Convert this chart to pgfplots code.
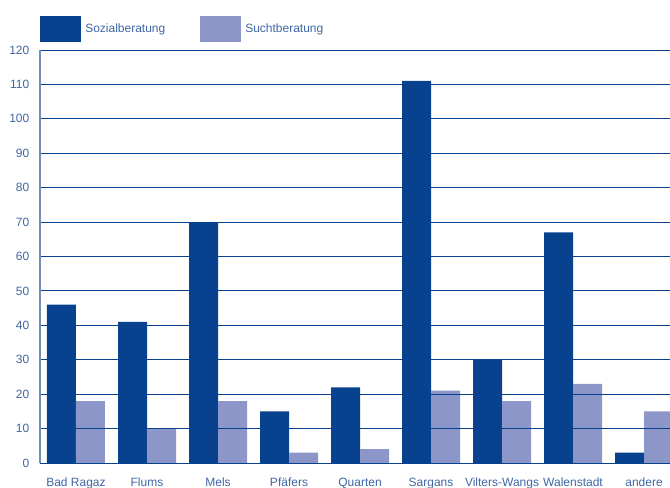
\documentclass[border=0pt]{standalone}
\usepackage{pgfplots}
\pgfplotsset{compat=1.18}
\usepackage{fontspec}
\setmainfont{Liberation Sans}
\definecolor{darkb}{HTML}{08418E}
\definecolor{lightb}{HTML}{8C96C8}
\definecolor{txtb}{HTML}{3F66A3}
\definecolor{axl}{HTML}{6F8EC0}
\begin{document}
\begin{tikzpicture}[x=0.75pt,y=0.75pt]
\useasboundingbox (-40,-24) rectangle (630,463);
\begin{axis}[
  at={(0,0)}, anchor=south west,
  scale only axis, width=472.5pt, height=309.75pt,
  ybar, bar width=21.75pt,
  xmin=-0.507, xmax=8.366, ymin=0, ymax=120,
  xtick={0,...,8},
  xticklabels={Bad Ragaz,Flums,Mels,Pfäfers,Quarten,Sargans,Vilters-Wangs,Walenstadt,andere},
  ytick={0,10,...,120},
  major tick length=0pt,
  axis on top,
  ymajorgrids, grid style={darkb, line width=0.75pt},
  axis x line*=bottom, axis y line*=left,
  x axis line style={darkb, line width=0.75pt, -},
  y axis line style={axl, line width=1.1pt, -},
  tick label style={font=\fontsize{9}{11}\selectfont, text=txtb},
  xticklabel style={anchor=base, yshift=-17.5pt},
  yticklabel style={anchor=east, xshift=-4.5pt},
  /pgf/number format/assume math mode=true,
  clip=true,
]
\addplot[fill=darkb, draw=none, bar shift=-10.875pt] coordinates {(0,46) (1,41) (2,70) (3,15) (4,22) (5,111) (6,30) (7,67) (8,3)};
\addplot[fill=lightb, draw=none, bar shift=10.875pt] coordinates {(0,18) (1,10) (2,18) (3,3) (4,4) (5,21) (6,18) (7,23) (8,15)};
\end{axis}
\fill[darkb] (0,421) rectangle (41,447);
\node[anchor=west, text=txtb, font=\fontsize{9}{11}\selectfont, inner sep=0pt] at (45,434) {Sozialberatung};
\fill[lightb] (160,421) rectangle (201,447);
\node[anchor=west, text=txtb, font=\fontsize{9}{11}\selectfont, inner sep=0pt] at (205,434) {Suchtberatung};
\end{tikzpicture}
\end{document}
